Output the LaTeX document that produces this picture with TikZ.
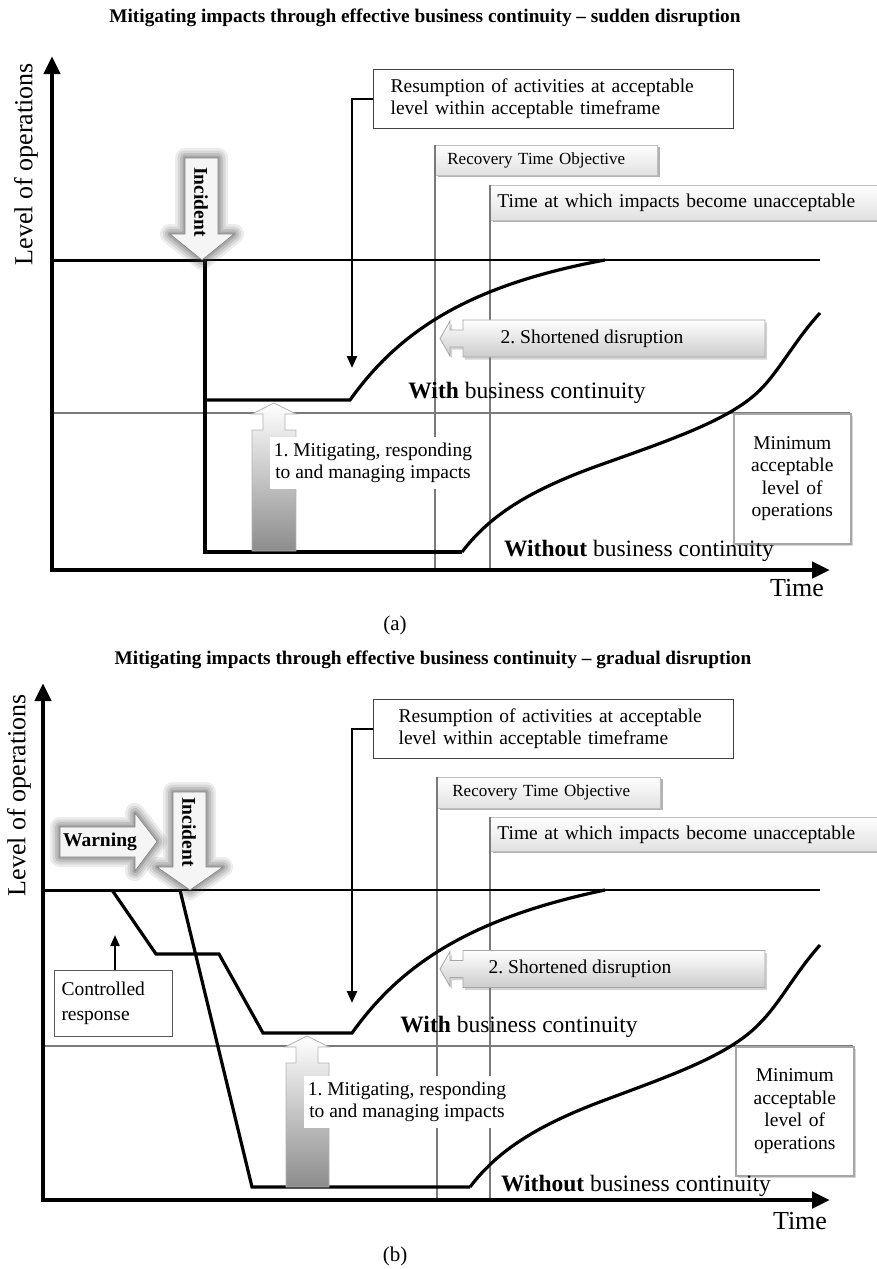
\documentclass[tikz,border=0pt]{standalone}
\usepackage{fontspec}
\setmainfont{Liberation Serif}
\usetikzlibrary{arrows.meta,shadows}
\frenchspacing

% soft dark halo behind a block arrow
\newcommand\halo[1]{%
  \foreach \w/\o in {20/0.10,15/0.12,10/0.15,5/0.20}{%
    \draw[line width=\w pt, black!75, opacity=\o, line join=round] #1;}}

\begin{document}
\begin{tikzpicture}[x=1pt,y=-1pt,
  axis/.style={line width=4.5pt, -{Triangle[length=18pt,width=16pt]}},
  flow/.style={line width=3.2pt, line join=miter},
  level/.style={line width=2pt},
  marker/.style={draw=black!52, line width=2pt},
  txt/.style={font=\fontsize{19.5}{22.5}\selectfont, inner sep=0pt},
  axislabel/.style={font=\fontsize{26}{28}\selectfont, inner sep=0pt},
  curvelabel/.style={font=\fontsize{23.5}{26}\selectfont, inner sep=0pt},
  title/.style={font=\bfseries\fontsize{19.3}{21}\selectfont, inner sep=0pt},
  callout/.style={draw=black!75, line width=1.2pt, fill=white, anchor=north west,
    align=left, font=\fontsize{19.5}{22}\selectfont},
  tagbox/.style={anchor=north west, align=left, draw=black!25, line width=0.8pt,
    top color=white, bottom color=black!12,
    drop shadow={shadow xshift=2.5pt, shadow yshift=-2pt, fill=black!60, opacity=0.5}},
  blockarrow/.style={draw=black!35, line width=0.8pt, top color=white, bottom color=black!20,
    drop shadow={shadow xshift=2pt, shadow yshift=-2.5pt, fill=black!50, opacity=0.35}},
  uparrow/.style={draw=black!30, line width=0.8pt, top color=white, bottom color=black!45},
  alert/.style={draw=black!50, line width=0.6pt, fill=black!4},
  alerttext/.style={font=\bfseries\fontsize{19.5}{22}\selectfont, inner sep=0pt},
  pointer/.style={line width=2.5pt, -{Triangle[length=12pt,width=10pt]}},
  minbox/.style={anchor=north west, draw=black!35, line width=1.5pt, fill=white, align=center,
    font=\fontsize{19.5}{22.5}\selectfont,
    drop shadow={shadow xshift=2pt, shadow yshift=-2pt, fill=black!40, opacity=0.4}}
]
\useasboundingbox (0,0) rectangle (876,1269);

%==================== (a) sudden disruption ====================
\node[title] (titleA) at (425,18) {Mitigating impacts through effective business continuity – sudden disruption};

% level lines and time markers
\draw[marker] (52,413) -- (850,413);
\node[tagbox, minimum width=222pt, minimum height=30pt, text width=198pt, inner xsep=12pt,
  font=\fontsize{17}{19}\selectfont] (rtoA) at (435,145) {Recovery Time Objective};
\node[tagbox, minimum width=392pt, minimum height=35pt, text width=378pt, inner xsep=7pt,
  font=\fontsize{19.5}{22}\selectfont] (unaccA) at (490,185) {Time at which impacts become unacceptable};
\draw[marker] (rtoA.north west) -- (435,570);
\draw[marker] (unaccA.north west) -- (490,570);

% axes
\draw[axis] (52,572) -- (52,56);
\draw[axis] (50,570) -- (830,570);
\node[axislabel, rotate=90] (levA) at (26,164) {Level of operations};
\node[axislabel] (timeA) at (797,588) {Time};

% normal level of operations
\draw[level, line width=3pt] (52,260) -- (205,260);
\draw[level] (205,260) -- (820,260);

% shortened disruption arrow
\path[blockarrow] (440,338.5) -- (450,321) -- (450,330) -- (463,330) -- (463,320) -- (765,320)
  -- (765,357) -- (463,357) -- (463,347) -- (450,347) -- (450,356) -- cycle;
\node[txt] (shortA) at (592,339) {2. Shortened disruption};

% recovery paths
\draw[flow] (205,260) -- (205,552) -- (462,552);
\draw[flow] (205,400) -- (350,400) .. controls (400,330) and (470,285) .. (605,260);
\draw[flow] (462,552) .. controls (490,515) and (530,490) .. (600,465)
  .. controls (670,440) and (730,420) .. (760,390)
  .. controls (780,370) and (795,340) .. (820,313);

% mitigating arrow
\path[uparrow] (274,403) -- (296,414) -- (285,414) -- (285,430) -- (296,430) -- (296,551)
  -- (252,551) -- (252,430) -- (263,430) -- (263,414) -- (252,414) -- cycle;
\node[txt, fill=white, inner xsep=4pt, inner ysep=6pt, align=center] (mitA) at (373,463)
  {1. Mitigating, responding\\to and managing impacts};

% incident arrow
\halo{(185,158) -- (218,158) -- (218,234) -- (234,234) -- (202,260) -- (170,234) -- (185,234) -- cycle}
\path[alert] (185,158) -- (218,158) -- (218,234) -- (234,234) -- (202,260) -- (170,234) -- (185,234) -- cycle;
\node[alerttext, rotate=-90] (incA) at (201,202) {Incident};

% resumption callout
\node[callout, minimum width=360pt, minimum height=59pt, text width=326pt, inner xsep=17pt] (resA) at (373,69)
  {Resumption of activities at acceptable\\level within acceptable timeframe};
\coordinate (resTipA) at (352,368);
\draw[pointer] (resA.west) -| (resTipA);

% minimum acceptable level
\node[minbox, minimum width=117pt, minimum height=130pt, text width=110pt, inner xsep=3pt] (minA) at (733,413)
  {Minimum\\acceptable\\level of\\operations};

% curve labels
\node[curvelabel] (withA) at (527,393) {\textbf{With} business continuity};
\node[curvelabel] (withoutA) at (639,551) {\textbf{Without} business continuity};

\node[font=\fontsize{21}{24}\selectfont, inner sep=0pt] (capA) at (395,625) {(a)};

%==================== (b) gradual disruption ====================
\node[title] (titleB) at (433,660) {Mitigating impacts through effective business continuity – gradual disruption};

\draw[marker] (43,1046) -- (853,1046);
\node[tagbox, minimum width=223pt, minimum height=31pt, text width=193pt, inner xsep=15pt,
  font=\fontsize{17}{19}\selectfont] (rtoB) at (437,777) {Recovery Time Objective};
\node[tagbox, minimum width=392pt, minimum height=34pt, text width=378pt, inner xsep=7pt,
  font=\fontsize{19.5}{22}\selectfont] (unaccB) at (490,817) {Time at which impacts become unacceptable};
\draw[marker] (rtoB.north west) -- (437,1200);
\draw[marker] (unaccB.north west) -- (490,1200);

\draw[axis] (43,1202) -- (43,683);
\draw[axis] (41,1200) -- (830,1200);
\node[axislabel, rotate=90] (levB) at (19,795) {Level of operations};
\node[axislabel] (timeB) at (800,1221) {Time};

\draw[level, line width=3pt] (43,890) -- (180,890);
\draw[level] (180,890) -- (820,890);

\path[blockarrow] (440,969) -- (450,951.5) -- (450,960.5) -- (463,960.5) -- (463,950.5) -- (765,950.5)
  -- (765,987.5) -- (463,987.5) -- (463,977.5) -- (450,977.5) -- (450,986.5) -- cycle;
\node[txt] (shortB) at (580,969) {2. Shortened disruption};

\draw[flow] (180,890) -- (252,1187) -- (470,1187);
\draw[flow] (112,890) -- (156,954) -- (219,954) -- (263,1033) -- (352,1033)
  .. controls (402,963) and (472,918) .. (605,890);
\draw[flow] (470,1187) .. controls (498,1150) and (538,1125) .. (605,1100)
  .. controls (672,1075) and (730,1055) .. (760,1023)
  .. controls (780,1003) and (795,973) .. (820,945);

\path[uparrow] (307,1036) -- (329,1047) -- (318,1047) -- (318,1063) -- (329,1063) -- (329,1187)
  -- (286,1187) -- (286,1063) -- (296,1063) -- (296,1047) -- (285,1047) -- cycle;
\node[txt, fill=white, inner xsep=4pt, inner ysep=6pt, align=center] (mitB) at (407,1102)
  {1. Mitigating, responding\\to and managing impacts};

% warning and incident arrows
\halo{(60,827) -- (135,827) -- (135,813) -- (157,841.5) -- (135,871) -- (135,857) -- (60,857) -- cycle}
\path[alert] (60,827) -- (135,827) -- (135,813) -- (157,841.5) -- (135,871) -- (135,857) -- (60,857) -- cycle;
\node[alerttext] (warnB) at (100,842) {Warning};
\halo{(173,792) -- (206,792) -- (206,867) -- (223,867) -- (190,890) -- (157,867) -- (173,867) -- cycle}
\path[alert] (173,792) -- (206,792) -- (206,867) -- (223,867) -- (190,890) -- (157,867) -- (173,867) -- cycle;
\node[alerttext, rotate=-90] (incB) at (189,832) {Incident};

% controlled response
\node[anchor=north west, draw=black!65, line width=1pt, fill=white, minimum width=118pt, minimum height=66pt,
  text width=104pt, inner xsep=7pt, align=left, font=\fontsize{19.5}{25}\selectfont] (ctrlB) at (54,970)
  {Controlled\\response};
\coordinate (ctrlTipB) at (115,935);
\draw[line width=2.2pt, -{Triangle[length=11pt,width=9pt]}] (ctrlB.north -| ctrlTipB) -- (ctrlTipB);

\node[callout, minimum width=360pt, minimum height=59pt, text width=310pt, inner xsep=25pt] (resB) at (373,699)
  {Resumption of activities at acceptable\\level within acceptable timeframe};
\coordinate (resTipB) at (352,1003);
\draw[pointer] (resB.west) -| (resTipB);

\node[minbox, minimum width=118pt, minimum height=129pt, text width=111pt, inner xsep=3pt] (minB) at (735,1046)
  {Minimum\\acceptable\\level of\\operations};

\node[curvelabel] (withB) at (519,1027) {\textbf{With} business continuity};
\node[curvelabel] (withoutB) at (636,1186) {\textbf{Without} business continuity};

\node[font=\fontsize{21}{24}\selectfont, inner sep=0pt] (capB) at (395,1256) {(b)};
\end{tikzpicture}
\end{document}
